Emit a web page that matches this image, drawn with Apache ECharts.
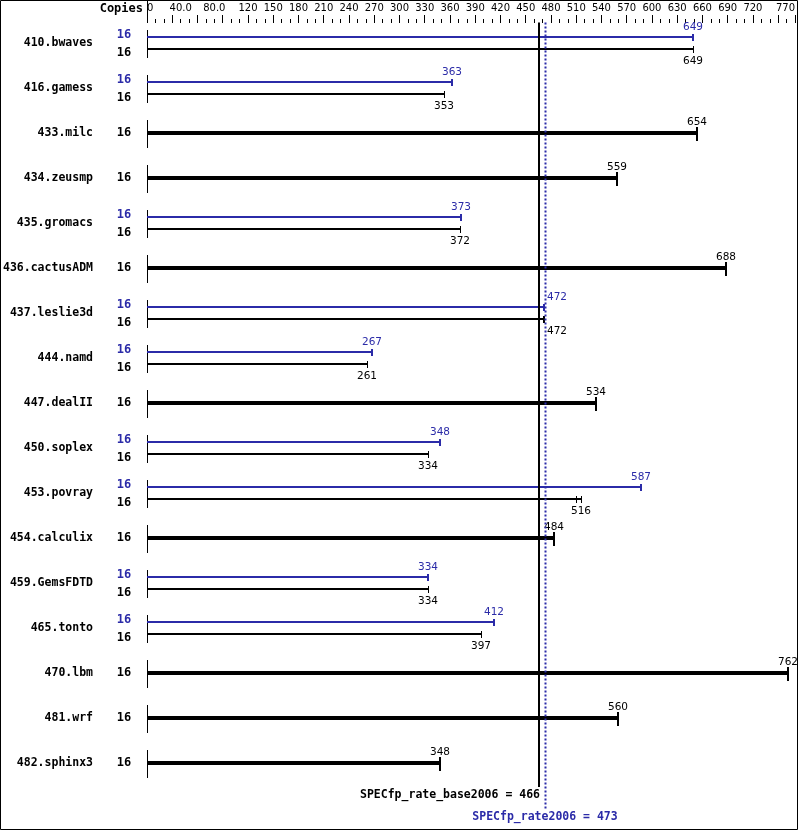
<!DOCTYPE html>
<html>
<head>
<meta charset="utf-8">
<script src="https://cdn.jsdelivr.net/npm/echarts@6/dist/echarts.min.js"></script>
<style>
html,body{margin:0;padding:0;background:#fff;}
#chart{width:799px;height:831px;}
</style>
</head>
<body>
<div id="chart"></div>
<script>
const benchmarks = ['410.bwaves','416.gamess','433.milc','434.zeusmp','435.gromacs','436.cactusADM','437.leslie3d','444.namd','447.dealII','450.soplex','453.povray','454.calculix','459.GemsFDTD','465.tonto','470.lbm','481.wrf','482.sphinx3'];
const copies = [16,16,16,16,16,16,16,16,16,16,16,16,16,16,16,16,16];
const baseValues = [649,353,654,559,372,688,472,261,534,334,516,484,334,397,762,560,348];
const peakValues = [649,363,null,null,373,null,472,267,null,348,587,null,334,412,null,null,null];
const baseRunMin = [null,null,null,null,null,null,470,null,null,null,510,null,null,null,null,null,null];
const xTickLabels = ['0','40.0','80.0','120','150','180','210','240','270','300','330','360','390','420','450','480','510','540','570','600','630','660','690','720','770'];
const xTickLabelValues = [0,40,80,120,150,180,210,240,270,300,330,360,390,420,450,480,510,540,570,600,630,660,690,720,770];
const specBase = 466;
const specPeak = 473;
const xMax = 770;

const BLUE = '#2b2ba8';
const MONO = 'bold 12px "DejaVu Sans Mono"';
const VALF = '10.5px "DejaVu Sans"';

function txt(text, x, y, fill, font, align, valign) {
  return {type:'text', style:{text:String(text), x:x, y:y, fill:fill, font:font,
    align:align, verticalAlign:valign, textAlign:align, textVerticalAlign:valign}};
}

const chart = echarts.init(document.getElementById('chart'), null, {renderer:'canvas'});

const rowData = benchmarks.map((n,i)=>[i, baseValues[i], peakValues[i] || 0, baseRunMin[i] || 0, copies[i]]);

function valLabel(v, x, y, fill, api, i) {
  const xRef = Math.round(api.coord([specPeak, i])[0]);
  if (Math.abs(x - xRef) < 6) return txt(v, xRef + 2, y, fill, VALF, 'left', 'middle');
  return txt(v, x, y, fill, VALF, 'center', 'middle');
}

function renderRow(params, api) {
  const i = api.value(0), base = api.value(1), peak = api.value(2), rmin = api.value(3), cp = api.value(4);
  const p0 = api.coord([0, i]);
  const x0 = Math.round(p0[0]), yc = Math.round(p0[1]);
  const ch = [];
  ch.push({type:'rect', shape:{x:x0, y:yc-13, width:1, height:28}, style:{fill:'#000'}});
  if (peak > 0) {
    const yb = yc - 6, yk = yc + 6;
    const xp = Math.round(api.coord([peak, i])[0]);
    const xk = Math.round(api.coord([base, i])[0]);
    ch.push({type:'rect', shape:{x:x0, y:yb-1, width:xp-x0, height:2}, style:{fill:BLUE}});
    ch.push({type:'rect', shape:{x:xp-1, y:yb-3, width:2, height:7}, style:{fill:BLUE}});
    ch.push(valLabel(peak, xp, yb-10, BLUE, api, i));
    ch.push({type:'rect', shape:{x:x0, y:yk-1, width:xk-x0, height:2}, style:{fill:'#000'}});
    ch.push({type:'rect', shape:{x:xk, y:yk-3, width:1, height:7}, style:{fill:'#000'}});
    if (rmin > 0) {
      const xm = Math.round(api.coord([rmin, i])[0]);
      ch.push({type:'rect', shape:{x:xm, y:yk-3, width:1, height:7}, style:{fill:'#000'}});
    }
    ch.push(valLabel(base, xk, yk+12, '#000', api, i));
    ch.push(txt(cp, x0-23, yc-8, BLUE, MONO, 'center', 'middle'));
    ch.push(txt(cp, x0-23, yc+10, '#000', MONO, 'center', 'middle'));
  } else {
    const xk = Math.round(api.coord([base, i])[0]);
    ch.push({type:'rect', shape:{x:x0, y:yc-2, width:xk-x0, height:4}, style:{fill:'#000'}});
    ch.push({type:'rect', shape:{x:xk-1, y:yc-6, width:2, height:14}, style:{fill:'#000'}});
    ch.push(valLabel(base, xk, yc-11, '#000', api, i));
    ch.push(txt(cp, x0-23, yc, '#000', MONO, 'center', 'middle'));
  }
  return {type:'group', children:ch};
}

function renderRef(params, api) {
  const vb = api.value(0), vp = api.value(1);
  const cs = params.coordSys;
  const xb = Math.round(api.coord([vb, 0])[0]);
  const xp = Math.round(api.coord([vp, 0])[0]);
  const top = cs.y + 2;
  return {type:'group', children:[
    {type:'rect', shape:{x:xb-1, y:top, width:2, height:787-top}, style:{fill:'#000'}},
    {type:'line', shape:{x1:xp+0.5, y1:top, x2:xp+0.5, y2:810}, style:{stroke:BLUE, lineWidth:2, lineDash:[2,2]}},
    txt('SPECfp_rate_base2006 = ' + vb, xb+1, 795, '#000', 'bold 11.5px "DejaVu Sans Mono"', 'right', 'middle'),
    txt('SPECfp_rate2006 = ' + vp, xp, 817, BLUE, 'bold 11.5px "DejaVu Sans Mono"', 'center', 'middle')
  ]};
}

const option = {
  animation: false,
  backgroundColor: '#fff',
  grid: {left:147, right:4, top:20.5, bottom:45.5, containLabel:false, outerBoundsMode:'none'},
  xAxis: [
    {type:'value', position:'top', min:0, max:xMax, interval:30, offset:-2.5,
     axisLine:{show:false}, splitLine:{show:false},
     axisTick:{show:true, length:8, lineStyle:{color:'#000', width:1}},
     minorTick:{show:true, splitNumber:3, length:4, lineStyle:{color:'#000', width:1}},
     minorSplitLine:{show:false},
     axisLabel:{show:false}},
    {type:'value', position:'top', min:0, max:xMax, interval:10, offset:-2.5,
     axisLine:{show:false}, splitLine:{show:false}, axisTick:{show:false},
     axisLabel:{show:true, margin:10, color:'#000', fontFamily:'DejaVu Sans', fontSize:10,
       alignMinLabel:'left', alignMaxLabel:'right', showMinLabel:true, showMaxLabel:true,
       formatter: function(v){ const k = xTickLabelValues.indexOf(Math.round(v)); return k>=0 ? xTickLabels[k] : ''; }}}
  ],
  yAxis: {type:'category', inverse:true, data:benchmarks,
    axisLine:{show:false}, axisTick:{show:false}, splitLine:{show:false},
    axisLabel:{margin:54, color:'#000', fontFamily:'DejaVu Sans Mono', fontWeight:'bold', fontSize:11.5}},
  graphic: [
    {type:'rect', shape:{x:0.5, y:0.5, width:797, height:829}, style:{fill:'none', stroke:'#000', lineWidth:1}, silent:true},
    {type:'rect', shape:{x:147, y:0, width:1, height:23}, style:{fill:'#000'}, silent:true},
    {type:'text', style:{text:'Copies', x:143, y:9, fill:'#000', font:MONO, align:'right', verticalAlign:'middle', textAlign:'right', textVerticalAlign:'middle'}, silent:true}
  ],
  series: [
    {type:'custom', xAxisIndex:0, renderItem:renderRow, clip:false, encode:{x:1, y:0}, data:rowData, silent:true},
    {type:'custom', xAxisIndex:0, renderItem:renderRef, clip:false, encode:{x:[0,1]}, data:[[specBase, specPeak]], silent:true, z:5}
  ]
};
chart.setOption(option);
</script>
</body>
</html>
